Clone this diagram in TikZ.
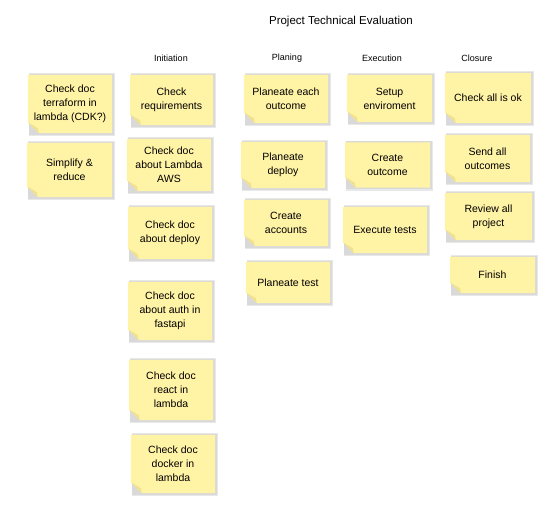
\documentclass[tikz,border=0pt]{standalone}
\usepackage{fontspec}
\setmainfont{Liberation Sans}
\usetikzlibrary{backgrounds}
\definecolor{notefill}{HTML}{FFF3A6}
\definecolor{notefold}{HTML}{F2E08C}
\definecolor{noteshadow}{HTML}{BDBDBD}
\tikzset{
  notetext/.style={align=center, inner sep=2pt, font=\fontsize{10.5}{14}\selectfont},
  titletext/.style={font=\fontsize{11.5}{13}\selectfont},
  headtext/.style={font=\fontsize{9}{11}\selectfont},
}
\newcommand\stickynote[7]{% name, cx, cy, w, h, text
  \node[notetext, minimum width=#4pt, minimum height=#5pt] (#1) at (#2,#3) {#6};
}
\begin{document}
\begin{tikzpicture}[x=1pt,y=-1pt]
\useasboundingbox (0,0) rectangle (550,516);
\node[titletext] (title) at (341,22) {Project Technical Evaluation};
\node[headtext] (hinit) at (171,58) {Initiation};
\node[headtext] (hplan) at (287,58) {Planing};
\node[headtext] (hexec) at (382,58) {Execution};
\node[headtext] (hclos) at (477,58) {Closure};

\stickynote{term}{70}{104}{84}{58}{Check doc\\terraform in\\lambda (CDK?)}{}
\stickynote{simp}{69.5}{170}{85}{54}{Simplify \&\\reduce}{}
\stickynote{req}{171.5}{100}{83}{50}{Check\\requirements}{}
\stickynote{lam}{169}{165}{84}{52}{Check doc\\about Lambda\\AWS}{}
\stickynote{dep}{170}{233}{84}{52}{Check doc\\about deploy}{}
\stickynote{auth}{170}{311}{84}{58}{Check doc\\about auth in\\fastapi}{}
\stickynote{react}{171}{390}{84}{60}{Check doc\\react in\\lambda}{}
\stickynote{dock}{173}{464}{84}{58}{Check doc\\docker in\\lambda}{}
\stickynote{pout}{286}{99}{84}{48}{Planeate each\\outcome}{}
\stickynote{pdep}{283}{165}{84}{46}{Planeate\\deploy}{}
\stickynote{acc}{286}{223}{84}{46}{Create\\accounts}{}
\stickynote{ptest}{288}{282.5}{84}{41}{Planeate test}{}
\stickynote{setup}{389.5}{98.5}{85}{47}{Setup\\enviroment}{}
\stickynote{cout}{387.5}{165}{85}{45}{Create\\outcome}{}
\stickynote{exec}{385}{230}{84}{46}{Execute tests}{}
\stickynote{ok}{488}{98}{86}{50}{Check all is ok}{}
\stickynote{send}{487.5}{158.5}{85}{47}{Send all\\outcomes}{}
\stickynote{rev}{488.5}{216.5}{87}{47}{Review all\\project}{}
\stickynote{fin}{492.5}{275}{85}{36}{Finish}{}

\begin{scope}[on background layer]
\foreach \n in {term,simp,req,lam,dep,auth,react,dock,pout,pdep,acc,ptest,setup,cout,exec,ok,send,rev,fin}{
  \fill[noteshadow, opacity=0.35] ([xshift=1.5pt,yshift=1.5pt]\n.north west) rectangle ([xshift=3pt,yshift=-3pt]\n.south east);
  \fill[noteshadow, opacity=0.35] ([xshift=0.8pt,yshift=0.8pt]\n.north west) rectangle ([xshift=1.5pt,yshift=-1.5pt]\n.south east);
  \fill[notefill] (\n.north west) -- (\n.north east) -- (\n.south east)
     -- ([xshift=11pt]\n.south west) -- ([yshift=11pt]\n.south west) -- cycle;
  \fill[notefold] ([xshift=11pt]\n.south west) -- ([yshift=11pt]\n.south west)
     -- ([xshift=10pt,yshift=5pt]\n.south west) -- cycle;
}
\end{scope}
\end{tikzpicture}
\end{document}
